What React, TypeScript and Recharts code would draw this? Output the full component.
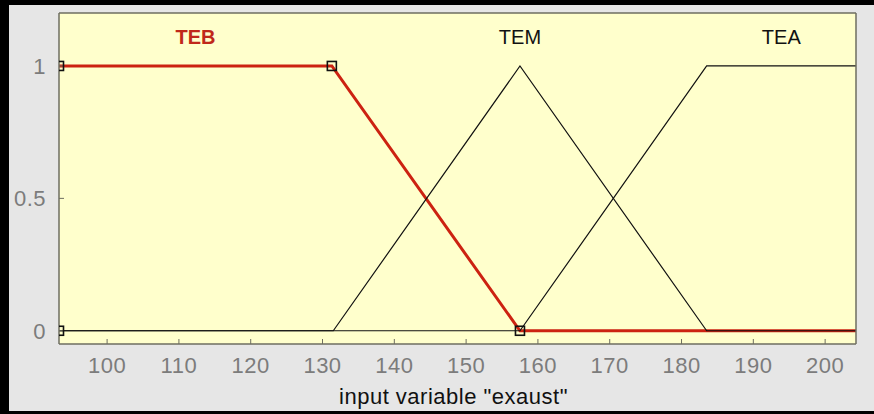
import React from 'react';
import {
  ComposedChart,
  Line,
  Scatter,
  XAxis,
  YAxis,
  CartesianGrid,
  ReferenceDot,
  Label,
} from 'recharts';

// ---- data ----
const xMin = 93.3;
const xMax = 204.3;
const xTicks = [100, 110, 120, 130, 140, 150, 160, 170, 180, 190, 200];
const yTicks = [0, 0.5, 1];

// TEB (selected, red trapezoid)
const tebX = [93.3, 131.3, 157.5, 204.3];
const tebY = [1, 1, 0, 0];
// markers of the selected membership function
const tebMarkX = [93.3, 93.3, 131.3, 157.5];
const tebMarkY = [0, 1, 1, 0];
// TEM (triangle)
const temX = [93.3, 131.5, 157.5, 183.5, 204.3];
const temY = [0, 0, 1, 0, 0];
// TEA (trapezoid)
const teaX = [93.3, 157.5, 183.5, 204.3];
const teaY = [0, 0, 1, 1];

const mfNames = ['TEB', 'TEM', 'TEA'];
const mfLabelX = [112.3, 157.5, 193.9];
const mfLabelY = [1.11, 1.11, 1.11];

const axisTitle = 'input variable "exaust"';

const zip = (xs: number[], ys: number[]) => xs.map((x, i) => ({ x, y: ys[i] }));
const tebData = zip(tebX, tebY);
const tebMarks = zip(tebMarkX, tebMarkY);
const temData = zip(temX, temY);
const teaData = zip(teaX, teaY);

const FONT = '"Liberation Sans", Arial, sans-serif';
const FRAME = '#6e6e60';
const TICK_TEXT = '#7c7c7c';
const RED = '#cc2211';

const SquareMarker = (props: any) => {
  const { cx, cy } = props;
  if (cx == null || cy == null) return <g />;
  return (
    <rect
      x={cx - 4.5}
      y={cy - 4.5}
      width={9}
      height={9}
      fill="none"
      stroke="#111"
      strokeWidth={1.6}
    />
  );
};

export default function App() {
  return (
    <div
      style={{
        position: 'absolute',
        left: 0,
        top: 0,
        width: 874,
        height: 414,
        background: '#e6e6e6',
        overflow: 'hidden',
      }}
    >
      <ComposedChart
        width={874}
        height={414}
        margin={{ top: 12, right: 0, bottom: 0, left: 0 }}
        style={{ fontFamily: FONT }}
      >
        <CartesianGrid horizontal={false} vertical={false} fill="#ffffcc" stroke="none" />
        <XAxis
          dataKey="x"
          type="number"
          domain={[xMin, xMax]}
          ticks={xTicks}
          interval={0}
          allowDataOverflow
          height={70}
          tickSize={-5}
          tickMargin={18}
          tick={{ fill: TICK_TEXT, fontSize: 22, fontFamily: FONT, letterSpacing: 0.5 }}
          axisLine={{ stroke: FRAME, strokeWidth: 1.5 }}
          tickLine={{ stroke: FRAME, strokeWidth: 1 }}
        >
          <Label
            value={axisTitle}
            position="insideBottom"
            offset={10}
            dx={-4}
            fill="#111"
            fontSize={22}
            letterSpacing={0.5}
            fontFamily={FONT}
          />
        </XAxis>
        <XAxis
          xAxisId="top"
          orientation="top"
          type="number"
          domain={[xMin, xMax]}
          ticks={xTicks}
          interval={0}
          allowDataOverflow
          height={1}
          tickSize={-5}
          tick={false}
          axisLine={{ stroke: FRAME, strokeWidth: 1.5 }}
          tickLine={{ stroke: FRAME, strokeWidth: 1 }}
        />
        <YAxis
          type="number"
          domain={[-0.05, 1.2]}
          ticks={yTicks}
          interval={0}
          allowDataOverflow
          width={59}
          tickSize={-5}
          tickMargin={18}
          tick={{ fill: TICK_TEXT, fontSize: 22, fontFamily: FONT, letterSpacing: 0.5 }}
          axisLine={{ stroke: FRAME, strokeWidth: 1.5 }}
          tickLine={{ stroke: FRAME, strokeWidth: 1 }}
        />
        <YAxis
          yAxisId="right"
          orientation="right"
          type="number"
          domain={[-0.05, 1.2]}
          ticks={yTicks}
          interval={0}
          allowDataOverflow
          width={18}
          tickSize={-5}
          tick={false}
          axisLine={{ stroke: FRAME, strokeWidth: 1.5 }}
          tickLine={{ stroke: FRAME, strokeWidth: 1 }}
        />
        <Line
          data={tebData}
          dataKey="y"
          type="linear"
          stroke={RED}
          strokeWidth={3}
          dot={false}
          activeDot={false}
          isAnimationActive={false}
        />
        <Line
          data={temData}
          dataKey="y"
          type="linear"
          stroke="#111"
          strokeWidth={1.2}
          dot={false}
          activeDot={false}
          isAnimationActive={false}
        />
        <Line
          data={teaData}
          dataKey="y"
          type="linear"
          stroke="#111"
          strokeWidth={1.2}
          dot={false}
          activeDot={false}
          isAnimationActive={false}
        />
        <Scatter
          data={tebMarks}
          dataKey="y"
          shape={SquareMarker}
          isAnimationActive={false}
        />
        {mfNames.map((name, i) => (
          <ReferenceDot
            key={name}
            x={mfLabelX[i]}
            y={mfLabelY[i]}
            r={0}
            fill="none"
            stroke="none"
          >
            <Label
              value={name}
              position="center"
              fill={i === 0 ? '#c0281a' : '#111'}
              fontSize={20}
              fontWeight={i === 0 ? 'bold' : 'normal'}
              fontFamily={FONT}
            />
          </ReferenceDot>
        ))}
      </ComposedChart>
      <div style={{ position: 'absolute', left: 0, top: 0, width: 9, height: 414, background: '#000' }} />
      <div style={{ position: 'absolute', left: 0, top: 0, width: 874, height: 5, background: '#000' }} />
      <div style={{ position: 'absolute', left: 0, top: 411, width: 874, height: 3, background: '#000' }} />
    </div>
  );
}
